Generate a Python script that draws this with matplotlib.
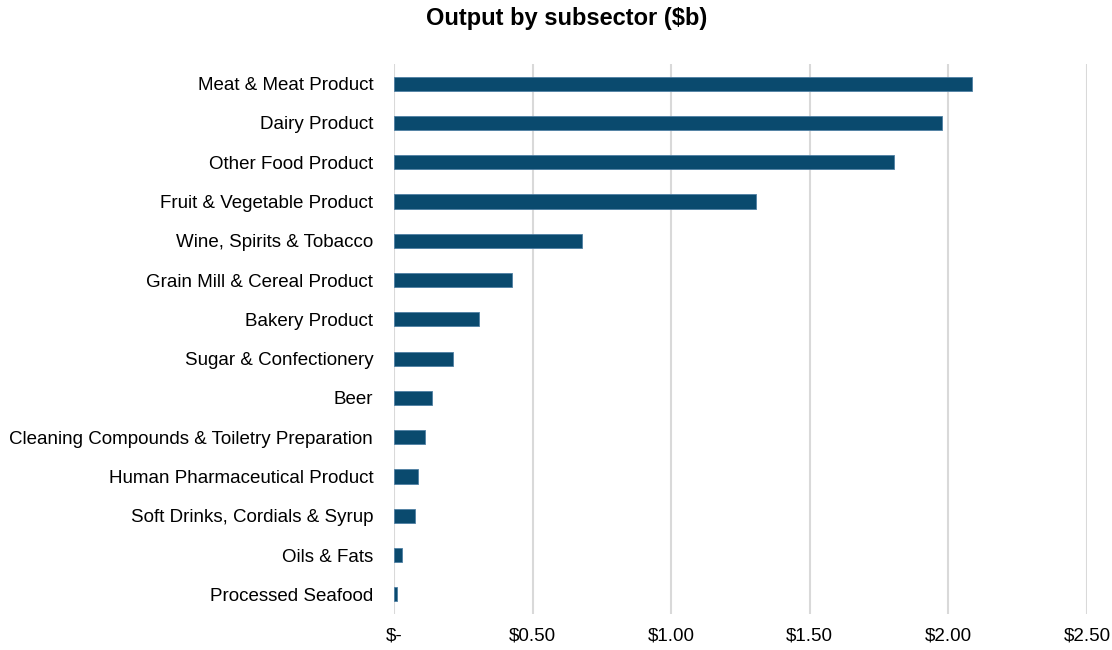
import matplotlib
matplotlib.use("Agg")
import matplotlib.pyplot as plt

categories = [
    "Meat & Meat Product",
    "Dairy Product",
    "Other Food Product",
    "Fruit & Vegetable Product",
    "Wine, Spirits & Tobacco",
    "Grain Mill & Cereal Product",
    "Bakery Product",
    "Sugar & Confectionery",
    "Beer",
    "Cleaning Compounds & Toiletry Preparation",
    "Human Pharmaceutical Product",
    "Soft Drinks, Cordials & Syrup",
    "Oils & Fats",
    "Processed Seafood",
]
values = [2.084, 1.978, 1.805, 1.306, 0.679, 0.426, 0.307, 0.213, 0.136, 0.112, 0.088, 0.077, 0.028, 0.010]
tick_values = [0, 0.5, 1.0, 1.5, 2.0, 2.5]
tick_labels = ["$-", "$0.50", "$1.00", "$1.50", "$2.00", "$2.50"]

plt.rcParams['font.family'] = ['Liberation Sans', 'DejaVu Sans']

fig = plt.figure(figsize=(11.12, 6.5), dpi=100)
ax = fig.add_axes([394/1112, 36/650, 693/1112, 550/650])

ypos = list(range(len(categories)))
ax.barh(ypos, values, height=0.36, color="#0A4A6E", edgecolor="#4F7FA3", linewidth=0.6, zorder=3)
ax.set_ylim(len(categories) - 0.5, -0.5)
ax.set_xlim(0, 2.5)
ax.set_yticks(ypos)
ax.set_yticklabels(categories, fontsize=13.5, color="#000000")
ax.set_xticks(tick_values)
ax.set_xticklabels(tick_labels, fontsize=13.5, color="#000000")
ax.tick_params(axis='y', length=0, pad=15)
ax.tick_params(axis='x', length=0, pad=10)
ax.grid(axis='x', color="#D9D9D9", linewidth=1.5, zorder=0)
for s in ax.spines.values():
    s.set_visible(False)

fig.text(567/1112, 1 - 19/650, "Output by subsector ($b)", ha='center', va='center',
         fontsize=17, fontweight='bold', color="#000000")

fig.savefig("out.png", dpi=100)
